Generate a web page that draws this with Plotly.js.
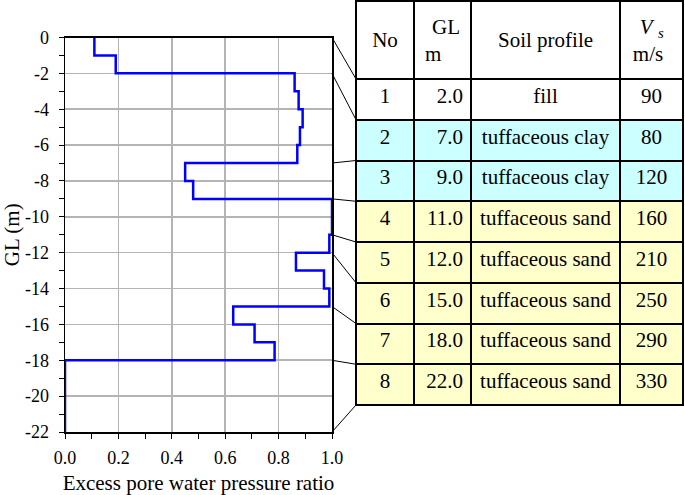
<!DOCTYPE html>
<html>
<head>
<meta charset="utf-8">
<script src="https://cdn.plot.ly/plotly-3.0.1.min.js"></script>
<style>
  body { margin: 0; background: #fff; }
  #chart { width: 685px; height: 495px; }
</style>
</head>
<body>
<div id="chart"></div>
<script>
// sub-layer tops (m) and excess pore water pressure ratio in each sub-layer
const depthTop = [0, -1, -2, -3, -4, -5, -6, -7, -8, -9, -11, -12, -13, -14, -15, -16, -17, -18];
const poreRatio = [0.11, 0.19, 0.86, 0.875, 0.89, 0.88, 0.87, 0.45, 0.48, 1.0, 0.99, 0.865, 0.97, 0.99, 0.63, 0.71, 0.785, 0.0];
const depthBottom = -22;

// soil table
const layerNo = [1, 2, 3, 4, 5, 6, 7, 8];
const layerGL = [2.0, 7.0, 9.0, 11.0, 12.0, 15.0, 18.0, 22.0];
const soilProfile = ['fill', 'tuffaceous clay', 'tuffaceous clay', 'tuffaceous sand',
    'tuffaceous sand', 'tuffaceous sand', 'tuffaceous sand', 'tuffaceous sand'];
const shearVelocity = [90, 80, 120, 160, 210, 250, 290, 330];
const tableHeader = ['No', 'GL<br>m', 'Soil profile', '<i>V</i> <sub><i>s</i></sub><br>m/s'];

// axis ticks
const xTickVals = [0, 0.2, 0.4, 0.6, 0.8, 1.0];
const xTickText = xTickVals.map(v => v.toFixed(1));
const yTickVals = [0, -2, -4, -6, -8, -10, -12, -14, -16, -18, -20, -22];
const yTickText = yTickVals.map(v => String(v));

const W = 685, H = 495;
const xDom = [65 / W, 332 / W];
const yDom = [(H - 432) / H, (H - 37.5) / H];
const tableTop = 1, headerH = 78, rowH = 40.75;
const tableX = [356 / W, 683 / W];

const soilColor = { 'fill': '#ffffff', 'tuffaceous clay': '#ccffff', 'tuffaceous sand': '#ffffcc' };
const rowColors = soilProfile.map(s => soilColor[s]);

const font = 'Liberation Serif';

// plotly tables put text at the top of a cell, so push header text down a bit
function headerCell(text) {
    if (text.indexOf('<br>') >= 0) {
        const gap = '<span style="font-size:28px">&nbsp;</span>';
        return gap + text + gap;
    }
    // one-line header: small blank first line, text on the second line
    return '<span style="font-size:12px">&nbsp;</span><br>' + text;
}

const profile = {
    x: poreRatio.concat([poreRatio[poreRatio.length - 1]]),
    y: depthTop.concat([depthBottom]),
    mode: 'lines',
    line: { color: '#0000ff', width: 2.5, shape: 'vh' },
    cliponaxis: false,
    showlegend: false,
    hoverinfo: 'skip',
};

const table = {
    type: 'table',
    domain: { x: tableX, y: [(H - 412) / H, (H - tableTop) / H] },
    columnwidth: [58, 57, 149, 63],
    header: {
        values: tableHeader.map(headerCell),
        height: headerH,
        align: 'center',
        fill: { color: '#ffffff' },
        line: { color: '#000000', width: 2 },
        font: { family: font, size: 21, color: '#000' },
    },
    cells: {
        values: [
            layerNo,
            layerGL.map(v => v.toFixed(1)),
            soilProfile.map(s => s.replace(' ', '\u00a0')),
            shearVelocity,
        ],
        height: rowH,
        align: ['center', 'right', 'center', 'center'],
        fill: { color: [rowColors, rowColors, rowColors, rowColors] },
        line: { color: '#000000', width: 2 },
        font: { family: font, size: 21, color: '#000' },
    },
};

// connector lines: layer boundary in the plot -> row boundary in the table
const boundaries = [0].concat(layerGL.map(v => -v));
const yToPaper = d => yDom[0] + (d - depthBottom) / (0 - depthBottom) * (yDom[1] - yDom[0]);
const shapes = boundaries.map((d, k) => ({
    type: 'line',
    xref: 'paper', yref: 'paper',
    x0: xDom[1], x1: tableX[0],
    y0: yToPaper(d),
    y1: (H - (tableTop + headerH + k * rowH)) / H,
    line: { color: '#000', width: 1 },
}));

const layout = {
    width: W,
    height: H,
    paper_bgcolor: '#fff',
    plot_bgcolor: '#fff',
    margin: { t: 0, l: 0, r: 0, b: 0 },
    font: { family: font, color: '#000' },
    showlegend: false,
    xaxis: {
        domain: xDom,
        range: [0, 1],
        tickmode: 'array',
        tickvals: xTickVals,
        ticktext: xTickText,
        ticks: 'outside',
        ticklen: 5,
        tickcolor: '#000',
        ticklabelstandoff: 4,
        tickfont: { family: font, size: 18 },
        showgrid: true,
        gridcolor: '#b4b4b4',
        gridwidth: 1.6,
        showline: true,
        linecolor: '#000',
        linewidth: 1.5,
        mirror: true,
        zeroline: false,
        layer: 'below traces',
        minor: { dtick: 0.1, tick0: 0, ticks: 'outside', ticklen: 5, tickcolor: '#000', showgrid: false },
        title: { text: 'Excess pore water pressure ratio', font: { family: font, size: 21 } },
    },
    yaxis: {
        domain: yDom,
        range: [-22, 0],
        tickmode: 'array',
        tickvals: yTickVals,
        ticktext: yTickText,
        ticks: 'outside',
        ticklen: 5,
        tickcolor: '#000',
        ticklabelstandoff: 6,
        tickfont: { family: font, size: 18 },
        showgrid: true,
        gridcolor: '#b4b4b4',
        gridwidth: 1.6,
        showline: true,
        linecolor: '#000',
        linewidth: 1.5,
        mirror: true,
        zeroline: false,
        layer: 'below traces',
        minor: { dtick: 1, tick0: 0, ticks: 'outside', ticklen: 5, tickcolor: '#000', showgrid: false },
        title: { text: 'GL (m)', font: { family: font, size: 21 } },
    },
    shapes: shapes,
};

Plotly.newPlot('chart', [profile, table], layout, { displayModeBar: false, staticPlot: true });
</script>
</body>
</html>
